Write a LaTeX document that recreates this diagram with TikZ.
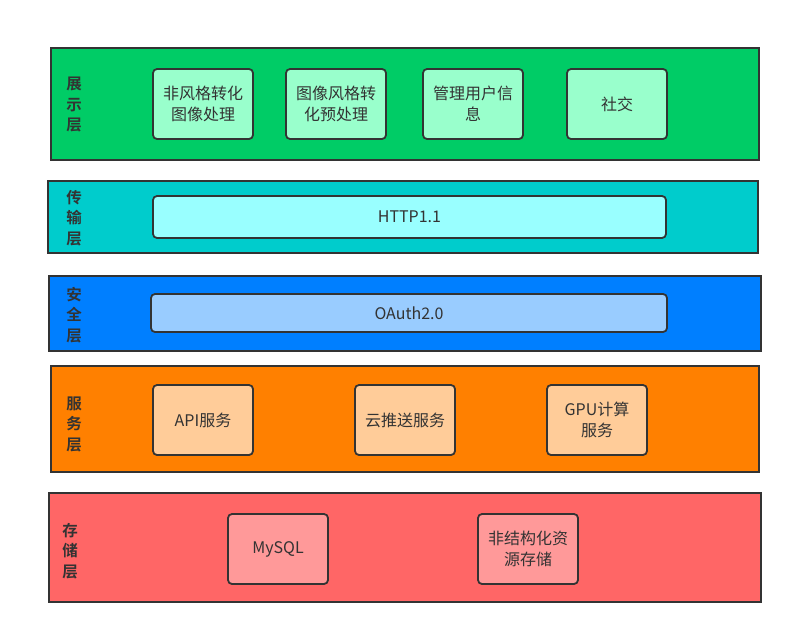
\documentclass[tikz,border=0pt]{standalone}
\usepackage{fontspec}
\setmainfont{Noto Sans CJK SC}[BoldFont={Noto Sans CJK SC Bold}]
\usepackage{xcolor}
\definecolor{edgegray}{HTML}{333333}
\definecolor{showgreen}{HTML}{00CC66}
\definecolor{showlight}{HTML}{99FFCC}
\definecolor{transcyan}{HTML}{00CCCC}
\definecolor{translight}{HTML}{99FFFF}
\definecolor{secblue}{HTML}{007FFF}
\definecolor{seclight}{HTML}{99CCFF}
\definecolor{servorange}{HTML}{FF8000}
\definecolor{servlight}{HTML}{FFCC99}
\definecolor{storered}{HTML}{FF6666}
\definecolor{storelight}{HTML}{FF9999}
\usetikzlibrary{positioning}

\begin{document}
\begin{tikzpicture}[
          x=1pt, y=-1pt,
          every node/.style = {text=edgegray},
          layer/.style = {draw=edgegray, line width=2pt, inner sep=0pt},
          tag/.style = {font=\fontsize{15.5}{20.5}\selectfont\bfseries, align=center},
          box/.style = {draw=edgegray, rounded corners=4pt, line width=1.8pt,
                        minimum width=100pt, minimum height=70pt, inner sep=2pt,
                        text width=92pt, align=center,
                        font=\fontsize{16}{21}\selectfont},
          bar/.style = {box, text width=400pt},
        ]
        \useasboundingbox (0,0) rectangle (793,634);

        %% Layers
        \node[layer, fill=showgreen, minimum width=708pt, minimum height=112pt] (L1) at (405,104) {};
        \node[layer, fill=transcyan, minimum width=710pt, minimum height=72pt] (L2) at (403,217) {};
        \node[layer, fill=secblue, minimum width=712pt, minimum height=75pt] (L3) at (405,313.5) {};
        \node[layer, fill=servorange, minimum width=708pt, minimum height=106pt] (L4) at (405,419) {};
        \node[layer, fill=storered, minimum width=712pt, minimum height=109pt] (L5) at (405,547.5) {};

        %% Layer names
        \node[tag] (T1) at (74,105) {展\\示\\层};
        \node[tag] (T2) at (74,218) {传\\输\\层};
        \node[tag] (T3) at (74,315) {安\\全\\层};
        \node[tag] (T4) at (74,424) {服\\务\\层};
        \node[tag] (T5) at (70,551) {存\\储\\层};

        %% Presentation
        \node[box, fill=showlight] (P1) at (203,104) {非风格转化\\图像处理};
        \node[box, fill=showlight] (P2) at (336,104) {图像风格转\\化预处理};
        \node[box, fill=showlight] (P3) at (473,104) {管理用户信\\息};
        \node[box, fill=showlight] (P4) at (617,104) {社交};

        %% Transport and security
        \node[bar, fill=translight, minimum width=513pt, minimum height=42pt] (H) at (409.5,217) {HTTP1.1};
        \node[bar, fill=seclight, minimum width=516pt, minimum height=38pt] (O) at (409,313) {OAuth2.0};

        %% Services
        \node[box, fill=servlight] (S1) at (203,420) {API服务};
        \node[box, fill=servlight] (S2) at (405,420) {云推送服务};
        \node[box, fill=servlight] (S3) at (597,420) {GPU计算\\服务};

        %% Storage
        \node[box, fill=storelight] (D1) at (278,549) {MySQL};
        \node[box, fill=storelight] (D2) at (528,549) {非结构化资\\源存储};
      \end{tikzpicture}
\end{document}
